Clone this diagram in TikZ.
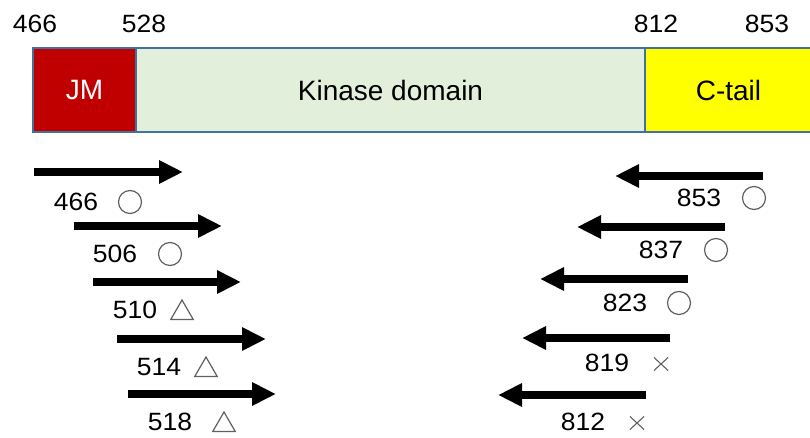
\documentclass[tikz,border=0pt]{standalone}
\usepackage{fontspec}
\setmainfont{Liberation Sans}
\usetikzlibrary{arrows.meta,shapes.geometric,shapes.misc}
\definecolor{jmred}{HTML}{C00000}
\definecolor{kinasegreen}{HTML}{E2EFDA}
\definecolor{tailyellow}{HTML}{FFFF00}
\definecolor{barline}{HTML}{41719C}
\definecolor{markgray}{HTML}{606060}

\begin{document}
\begin{tikzpicture}[x=1pt,y=-1pt,
  lbl/.style={font=\fontsize{25}{29}\selectfont, inner sep=0pt, anchor=center, xscale=1.06},
  domainbox/.style={draw=barline, line width=2pt, minimum height=84pt, inner sep=0pt,
    font=\fontsize{28}{32}\selectfont},
  primer/.style={line width=8pt, -{Triangle[length=24pt,width=22pt]}},
  okmark/.style={circle, draw=markgray, line width=1.2pt, minimum size=23pt, inner sep=0pt},
  midmark/.style={regular polygon, regular polygon sides=3, draw=markgray, line width=1.2pt,
    minimum size=26pt, inner sep=0pt},
  nomark/.style={cross out, draw=markgray, line width=1.1pt, minimum width=13pt,
    minimum height=12pt, inner sep=0pt}
]
\useasboundingbox (0,0) rectangle (810,438);
\clip (0,0) rectangle (810,438);

% residue numbers above the domain bar
\node[lbl] (n466) at (35,24) {466};
\node[lbl] (n528) at (144,24) {528};
\node[lbl] (n812) at (656,24) {812};
\node[lbl] (n853) at (767,24) {853};

% domain bar
\node[domainbox, fill=jmred, text=white, minimum width=103pt] (jm) at (84.5,90) {JM};
\node[domainbox, fill=kinasegreen, minimum width=509pt] (kin) at (390.5,90) {Kinase domain};
\node[domainbox, fill=tailyellow, minimum width=167pt] (ctail) at (728.5,90) {C-tail};

% forward primers
\coordinate (f1s) at (34,172);  \coordinate (f1e) at (183,172);
\coordinate (f2s) at (74,226);  \coordinate (f2e) at (222,226);
\coordinate (f3s) at (93,282);  \coordinate (f3e) at (241,282);
\coordinate (f4s) at (117,339); \coordinate (f4e) at (266,339);
\coordinate (f5s) at (128,394); \coordinate (f5e) at (276,394);
\foreach \i in {1,...,5} \draw[primer] (f\i s) -- (f\i e);

\node[lbl] (f466) at (76,202) {466};  \node[okmark] (f466m) at (130,202) {};
\node[lbl] (f506) at (115,254) {506}; \node[okmark] (f506m) at (170,254) {};
\node[lbl] (f510) at (135,310) {510}; \node[midmark] (f510m) at (182,313) {};
\node[lbl] (f514) at (159,367) {514}; \node[midmark] (f514m) at (206,370) {};
\node[lbl] (f518) at (170,422) {518}; \node[midmark] (f518m) at (224,425) {};

% reverse primers
\coordinate (r1s) at (763,176); \coordinate (r1e) at (615,176);
\coordinate (r2s) at (725,227); \coordinate (r2e) at (577,227);
\coordinate (r3s) at (688,279); \coordinate (r3e) at (540,279);
\coordinate (r4s) at (670,338); \coordinate (r4e) at (522,338);
\coordinate (r5s) at (646,395); \coordinate (r5e) at (498,395);
\foreach \i in {1,...,5} \draw[primer] (r\i s) -- (r\i e);

\node[lbl] (r853) at (699,198) {853}; \node[okmark] (r853m) at (754,198) {};
\node[lbl] (r837) at (661,250) {837}; \node[okmark] (r837m) at (716,250) {};
\node[lbl] (r823) at (625,303) {823}; \node[okmark] (r823m) at (679,303) {};
\node[lbl] (r819) at (607,363) {819}; \node[nomark] (r819m) at (661,364) {};
\node[lbl] (r812) at (583,422) {812}; \node[nomark] (r812m) at (637,423) {};
\end{tikzpicture}
\end{document}
